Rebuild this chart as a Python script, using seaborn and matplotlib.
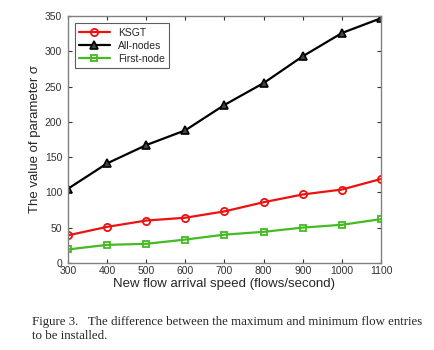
import pandas as pd
import numpy as np
import seaborn as sns
import matplotlib.pyplot as plt

speed = [300, 400, 500, 600, 700, 800, 900, 1000, 1100]
ksgt = [39, 51, 60, 64, 73, 86, 97, 104, 119]
all_nodes = [105, 141, 167, 188, 224, 255, 293, 326, 347]
first_node = [19, 25.5, 27, 33, 40, 44, 50, 54, 62]

sns.set_style('white')
plt.rcParams['font.family'] = ['Liberation Sans', 'DejaVu Sans']

fig = plt.figure(figsize=(4.35, 3.5), dpi=100)
ax = fig.add_axes([0.156, 0.249, 0.72, 0.705])

df = pd.DataFrame({'speed': speed, 'KSGT': ksgt, 'All-nodes': all_nodes, 'First-node': first_node})

sns.lineplot(data=df, x='speed', y='KSGT', ax=ax, color='#ee1111', lw=1.6,
             marker='o', ms=5.2, mfc='none', mec='#ee1111', mew=1.3, label='KSGT')
sns.lineplot(data=df, x='speed', y='All-nodes', ax=ax, color='black', lw=1.6,
             marker='^', ms=6.2, mfc='#444444', mec='black', mew=1.2, label='All-nodes')
sns.lineplot(data=df, x='speed', y='First-node', ax=ax, color='#44bb22', lw=1.6,
             marker='s', ms=4.8, mfc='none', mec='#44bb22', mew=1.3, label='First-node')

ax.set_xlim(300, 1100)
ax.set_ylim(0, 350)
ax.set_xticks(range(300, 1101, 100))
ax.set_yticks(range(0, 351, 50))
ax.tick_params(direction='in', length=3, labelsize=7.5, colors='#333333',
               top=True, right=True, bottom=True, left=True, pad=2.5)
ax.tick_params(axis='y', pad=4)
for s in ax.spines.values():
    s.set_color('#808080')
    s.set_linewidth(1.0)
ax.set_xlabel('New flow arrival speed (flows/second)', fontsize=9.5, labelpad=1)
ax.set_ylabel('The value of parameter σ', fontsize=9.5, labelpad=3)

leg = ax.legend(loc='upper left', fontsize=7.5, frameon=True, fancybox=False,
                edgecolor='#333333', borderpad=0.4, labelspacing=0.3,
                handlelength=2.9, borderaxespad=0.7)
leg.get_frame().set_linewidth(0.8)

fig.text(0.074, 1 - 322 / 350, 'Figure 3.   The difference between the maximum and minimum flow entries',
         family='Liberation Serif', fontsize=9.3, va='center')
fig.text(0.074, 1 - 336 / 350, 'to be installed.', family='Liberation Serif', fontsize=9.3, va='center')

fig.savefig('out.png', dpi=100)
